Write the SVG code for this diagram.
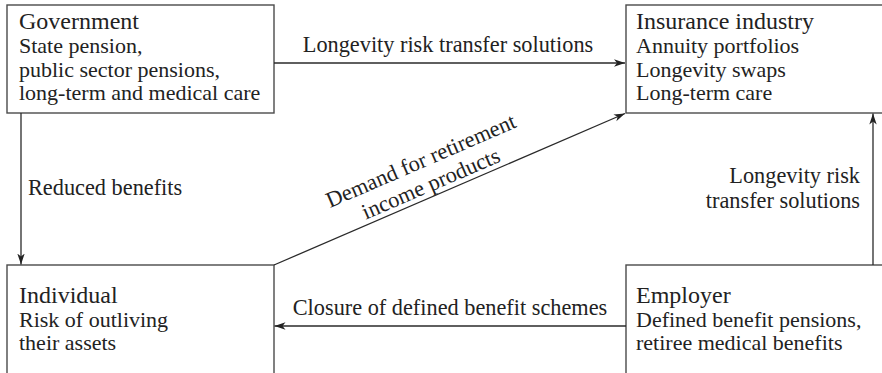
<svg xmlns="http://www.w3.org/2000/svg" width="882" height="373" viewBox="0 0 882 373">
<style>
.box{fill:#fff;stroke:#4a4a4a;stroke-width:1.4}
.t{font-family:"Liberation Serif","Times New Roman",serif;fill:#222}
.title{font-size:24px}
.body{font-size:22px}
.lbl{font-size:22.3px}
.conn{stroke:#2a2a2a;stroke-width:1.3;fill:none}
</style>
<defs>
<marker id="ah" markerUnits="userSpaceOnUse" markerWidth="12" markerHeight="8" refX="11" refY="4" orient="auto">
<path d="M0,0.3 L11,4 L0,7.7 L3,4 Z" fill="#222"/>
</marker>
</defs>
<rect width="882" height="373" fill="#fff"/>
<g id="government">
<rect class="box" x="7" y="5" width="267" height="108"/>
<text class="t title" x="19" y="29">Government</text>
<text class="t body" x="19" y="53">State pension,</text>
<text class="t body" x="19" y="77">public sector pensions,</text>
<text class="t body" x="19" y="100">long-term and medical care</text>
</g>
<g id="insurance">
<rect class="box" x="626" y="5" width="300" height="108"/>
<text class="t title" x="636" y="29">Insurance industry</text>
<text class="t body" x="636" y="53">Annuity portfolios</text>
<text class="t body" x="636" y="77">Longevity swaps</text>
<text class="t body" x="636" y="100">Long-term care</text>
</g>
<g id="individual">
<rect class="box" x="7" y="265" width="267" height="200"/>
<text class="t title" x="19" y="303">Individual</text>
<text class="t body" x="19" y="327">Risk of outliving</text>
<text class="t body" x="19" y="350">their assets</text>
</g>
<g id="employer">
<rect class="box" x="626" y="265" width="300" height="200"/>
<text class="t title" x="636" y="303">Employer</text>
<text class="t body" x="636" y="327">Defined benefit pensions,</text>
<text class="t body" x="636" y="350">retiree medical benefits</text>
</g>
<g id="connectors">
<line class="conn" x1="274" y1="63" x2="625" y2="63" marker-end="url(#ah)"/>
<line class="conn" x1="21" y1="113" x2="21" y2="264.5" marker-end="url(#ah)"/>
<line class="conn" x1="274" y1="265" x2="625" y2="113.5" marker-end="url(#ah)"/>
<line class="conn" x1="873" y1="265" x2="873" y2="113.5" marker-end="url(#ah)"/>
<line class="conn" x1="626" y1="326" x2="274.5" y2="326" marker-end="url(#ah)"/>
<text class="t lbl" x="448" y="52" text-anchor="middle">Longevity risk transfer solutions</text>
<text class="t lbl" x="28" y="195">Reduced benefits</text>
<text class="t lbl" x="860" y="183" text-anchor="end">Longevity risk</text>
<text class="t lbl" x="860" y="208" text-anchor="end">transfer solutions</text>
<text class="t lbl" x="450" y="315" text-anchor="middle">Closure of defined benefit schemes</text>
<g transform="translate(449.5,189) rotate(-23.4)">
<text class="t lbl" x="-15" y="-30" text-anchor="middle">Demand for retirement</text>
<text class="t lbl" x="-15" y="-5" text-anchor="middle">income products</text>
</g>
</g>
</svg>
